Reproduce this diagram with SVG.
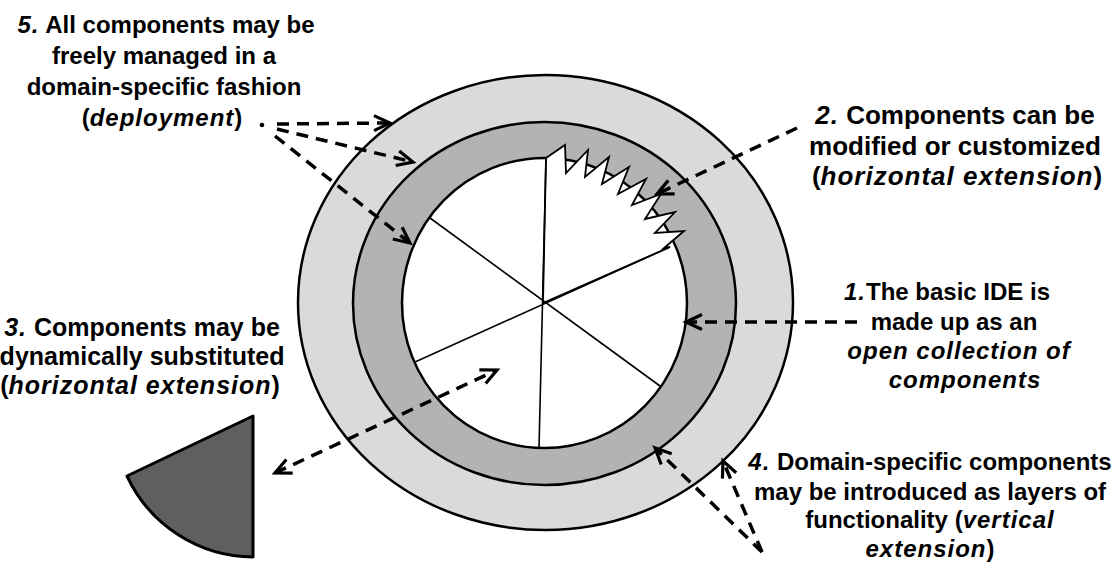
<svg xmlns="http://www.w3.org/2000/svg" width="1120" height="570" viewBox="0 0 1120 570">
<defs>
<style>
.lbl{font-family:"Liberation Sans",Arial,sans-serif;font-weight:bold;font-size:24px;fill:#000;text-anchor:middle}
.it{font-style:italic;letter-spacing:1px}
.ring{stroke:#000;stroke-width:2.5}
.spoke{stroke:#000;stroke-width:1.6;fill:none}
.dash{stroke:#000;stroke-width:3.5;fill:none;stroke-dasharray:12 8}
</style>
<marker id="ah" markerUnits="userSpaceOnUse" markerWidth="24" markerHeight="24" viewBox="-20 -12 24 24" refX="0" refY="0" orient="auto-start-reverse" overflow="visible">
<path d="M-16,-7.5 L0,0 L-16,7.5" fill="none" stroke="#000" stroke-width="3.2" stroke-dasharray="none"/>
</marker>
</defs>
<rect width="1120" height="570" fill="#fff"/>

<g id="outer-ring"><ellipse cx="545.5" cy="302.5" rx="247.5" ry="227.5" fill="#dadada" class="ring"/></g>
<g id="middle-ring"><ellipse cx="544.5" cy="303.5" rx="191.5" ry="181.5" fill="#b3b3b3" class="ring"/></g>
<g id="core">
<ellipse cx="544.5" cy="303" rx="142.5" ry="145" fill="#fff" class="ring"/>
<path d="M543,303 L546,158 L565,145 L566,173 L588,150 L585,177 L609,157 L602,184 L629,167 L618,194 L646,179 L632,205 L661,194 L645,219 L675,212 L655,233 L684,231 L664,248 L670,247 Z" fill="#fff" stroke="#000" stroke-width="1.8" stroke-linejoin="miter"/>
<path class="spoke" d="M546,158 L539,448 M430,218 L660,386 M670,247 L415,362"/>
</g>
<g id="removed-component"><path d="M253,416 L127,476 A140,140 0 0 0 253,557 Z" fill="#5f5f5f" stroke="#000" stroke-width="3" stroke-linejoin="round"/></g>

<g id="connectors">
<circle cx="262" cy="125" r="2.3" fill="#000"/>
<line class="dash" x1="277" y1="124" x2="390" y2="123" marker-end="url(#ah)"/>
<line class="dash" x1="277" y1="129" x2="413" y2="162" marker-end="url(#ah)"/>
<line class="dash" x1="275" y1="136" x2="410" y2="243" marker-end="url(#ah)"/>
<line class="dash" x1="797" y1="128" x2="657" y2="194" marker-end="url(#ah)"/>
<line class="dash" x1="857" y1="322" x2="686" y2="322" marker-end="url(#ah)"/>
<line class="dash" x1="275" y1="473" x2="497" y2="370" marker-start="url(#ah)" marker-end="url(#ah)"/>
<line class="dash" x1="762" y1="552" x2="655" y2="448" marker-end="url(#ah)"/>
<line class="dash" x1="762" y1="552" x2="723" y2="461" marker-end="url(#ah)"/>
</g>

<g id="label-5">
<text class="lbl" x="166" y="33"><tspan class="it">5.</tspan> All components may be</text>
<text class="lbl" x="164" y="64">freely managed in a</text>
<text class="lbl" x="164" y="95">domain-specific fashion</text>
<text class="lbl" x="162" y="126">(<tspan class="it">deployment</tspan>)</text>
</g>
<g id="label-2" style="font-size:26px">
<text class="lbl" x="955" y="124" style="font-size:26px"><tspan class="it">2.</tspan> Components can be</text>
<text class="lbl" x="955" y="155" style="font-size:26px">modified or customized</text>
<text class="lbl" x="957" y="185" style="font-size:26px">(<tspan class="it">horizontal extension</tspan>)</text>
</g>
<g id="label-1">
<text class="lbl" x="947" y="300"><tspan class="it">1.</tspan>The basic IDE is</text>
<text class="lbl" x="954" y="330">made up as an</text>
<text class="lbl" x="959" y="359"><tspan class="it">open collection of</tspan></text>
<text class="lbl" x="965" y="388"><tspan class="it">components</tspan></text>
</g>
<g id="label-3">
<text class="lbl" x="142" y="336" style="font-size:25px"><tspan class="it">3.</tspan> Components may be</text>
<text class="lbl" x="142" y="365" style="font-size:25px">dynamically substituted</text>
<text class="lbl" x="140" y="394" style="font-size:25px">(<tspan class="it">horizontal extension</tspan>)</text>
</g>
<g id="label-4">
<text class="lbl" x="930" y="470"><tspan class="it">4.</tspan> Domain-specific components</text>
<text class="lbl" x="930" y="500">may be introduced as layers of</text>
<text class="lbl" x="930" y="528">functionality (<tspan class="it">vertical</tspan></text>
<text class="lbl" x="930" y="557"><tspan class="it">extension</tspan>)</text>
</g>
</svg>
